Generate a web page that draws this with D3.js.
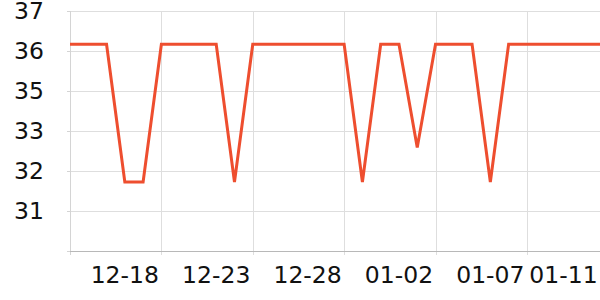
<!DOCTYPE html>
<html>
<head>
<meta charset="utf-8">
<script src="https://cdn.jsdelivr.net/npm/d3@7"></script>
<style>
  html, body { margin: 0; padding: 0; background: #fff; }
  svg { display: block; font-family: "DejaVu Sans", sans-serif; }
</style>
</head>
<body>
<div id="chart"></div>
<script>
// Data
const dates = [
  '12-15', '12-16', '12-17', '12-18', '12-19', '12-20', '12-21', '12-22', '12-23', '12-24',
  '12-25', '12-26', '12-27', '12-28', '12-29', '12-30', '12-31', '01-01', '01-02', '01-03',
  '01-04', '01-05', '01-06', '01-07', '01-08', '01-09', '01-10', '01-11', '01-12', '01-13'
]
const values = [
  36.1, 36.1, 36.1, 31.7, 31.7, 36.1, 36.1, 36.1, 36.1, 31.7,
  36.1, 36.1, 36.1, 36.1, 36.1, 36.1, 31.7, 36.1, 36.1, 32.8,
  36.1, 36.1, 36.1, 31.7, 36.1, 36.1, 36.1, 36.1, 36.1, 36.1
]
const xLabelDates = ['12-18', '12-23', '12-28', '01-02', '01-07', '01-11']
const xGridDates = ['12-15', '12-20', '12-25', '12-30', '01-04', '01-09']
const yDomain = [29.5, 37.16]
const yTickLabels = ['', '31', '32', '33', '35', '36', '37']

// Layout
const width = 600
const height = 300
const margin = { top: 11, right: 0, bottom: 49, left: 70 }
const fontSize = 23.5

const svg = d3.select('#chart')
  .append('svg')
    .attr('width', width)
    .attr('height', height)

const x = d3.scalePoint()
  .domain(dates)
  .range([margin.left, width - margin.right])

const y = d3.scaleLinear()
  .domain(yDomain)
  .range([height - margin.bottom, margin.top])

const yStep = (yDomain[1] - yDomain[0]) / (yTickLabels.length - 1)
const yTicks = yTickLabels.map((d, i) => yDomain[0] + i * yStep)

// Horizontal grid
svg.append('g')
  .selectAll('line')
  .data(yTicks.slice(1))
  .enter()
  .append('line')
    .attr('x1', margin.left)
    .attr('x2', width - margin.right)
    .attr('y1', d => Math.round(y(d)) + 0.5)
    .attr('y2', d => Math.round(y(d)) + 0.5)
    .attr('stroke', '#dedede')
    .attr('stroke-width', 1)

// Vertical grid
svg.append('g')
  .selectAll('line')
  .data(xGridDates.slice(1))
  .enter()
  .append('line')
    .attr('x1', d => Math.round(x(d)) + 0.5)
    .attr('x2', d => Math.round(x(d)) + 0.5)
    .attr('y1', y(yDomain[1]))
    .attr('y2', y(yDomain[0]) + 4)
    .attr('stroke', '#dedede')
    .attr('stroke-width', 1)

// Left axis line + ticks
svg.append('line')
  .attr('x1', margin.left + 0.5)
  .attr('x2', margin.left + 0.5)
  .attr('y1', y(yDomain[1]))
  .attr('y2', y(yDomain[0]) + 4)
  .attr('stroke', '#d4d4d4')

svg.append('g')
  .selectAll('line')
  .data(yTicks)
  .enter()
  .append('line')
    .attr('x1', margin.left - 3)
    .attr('x2', margin.left)
    .attr('y1', d => Math.round(y(d)) + 0.5)
    .attr('y2', d => Math.round(y(d)) + 0.5)
    .attr('stroke', '#d4d4d4')

// Bottom axis line
svg.append('line')
  .attr('x1', margin.left)
  .attr('x2', width - margin.right)
  .attr('y1', Math.round(y(yDomain[0])) + 0.5)
  .attr('y2', Math.round(y(yDomain[0])) + 0.5)
  .attr('stroke', '#b8b8b8')

// Y labels
svg.append('g')
  .selectAll('text')
  .data(yTicks)
  .enter()
  .append('text')
    .attr('x', margin.left - 26)
    .attr('y', d => y(d))
    .attr('dy', '0.36em')
    .attr('text-anchor', 'end')
    .attr('font-size', fontSize)
    .attr('fill', '#111')
    .text((d, i) => yTickLabels[i])

// X labels
svg.append('g')
  .selectAll('text')
  .data(xLabelDates)
  .enter()
  .append('text')
    .attr('x', d => x(d))
    .attr('y', 283)
    .attr('text-anchor', 'middle')
    .attr('font-size', fontSize)
    .attr('fill', '#111')
    .text(d => d)

// Line
const line = d3.line()
  .x((d, i) => x(dates[i]))
  .y(d => y(d))

svg.append('path')
  .datum(values)
  .attr('d', line)
  .attr('fill', 'none')
  .attr('stroke', '#ee4e2f')
  .attr('stroke-width', 3)
  .attr('stroke-linejoin', 'miter')
</script>
</body>
</html>
